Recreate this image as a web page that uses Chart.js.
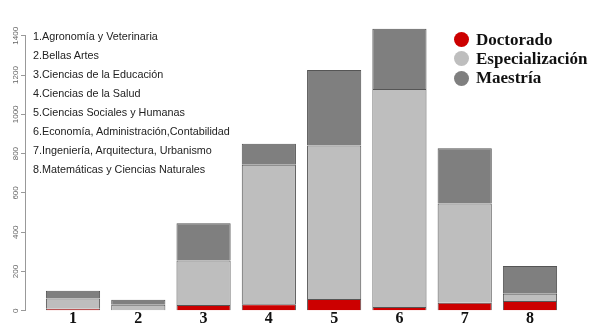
<!DOCTYPE html>
<html>
<head>
<meta charset="utf-8">
<script src="https://cdn.jsdelivr.net/npm/chart.js@4/dist/chart.umd.min.js"></script>
<style>
  html, body { margin: 0; padding: 0; background: #fff; }
  #wrap { position: relative; width: 603px; height: 336px; }
  #notes {
    position: absolute; left: 33px; top: 27px;
    font-family: "Liberation Sans", Arial, sans-serif; font-size: 10.8px;
    line-height: 19px; color: #222; white-space: nowrap;
  }
  #legend {
    position: absolute; left: 454px; top: 30px; margin: 0; padding: 0; list-style: none;
    font-family: "Liberation Serif", serif; font-weight: bold; font-size: 17px; color: #111;
  }
  #legend li { display: flex; align-items: center; height: 19.3px; }
  #legend span.dot { width: 15px; height: 15px; border-radius: 50%; margin-right: 7px; }
</style>
</head>
<body>
<div id="wrap">
  <canvas id="chart" width="603" height="336"></canvas>
  <div id="notes"></div>
  <ul id="legend"></ul>
</div>
<script>
const categories = ["1", "2", "3", "4", "5", "6", "7", "8"];
const areaNames = [
  "1.Agronomía y Veterinaria",
  "2.Bellas Artes",
  "3.Ciencias de la Educación",
  "4.Ciencias de la Salud",
  "5.Ciencias Sociales y Humanas",
  "6.Economía, Administración,Contabilidad",
  "7.Ingeniería, Arquitectura, Urbanismo",
  "8.Matemáticas y Ciencias Naturales"
];
const seriesNames = ["Doctorado", "Especialización", "Maestría"];
const doctorado = [10, 3, 30, 33, 60, 19, 41, 50];
const especializacion = [52, 28, 226, 710, 781, 1110, 505, 37];
const maestria = [40, 25, 190, 108, 385, 307, 282, 141];
const yTicks = [0, 200, 400, 600, 800, 1000, 1200, 1400];

const colors = ["#cc0000", "#bebebe", "#7f7f7f"];

document.getElementById("notes").innerHTML = areaNames.map(n => "<div>" + n + "</div>").join("");

const toPoints = (vals) => vals.map((v, i) => ({ x: i + 1, y: v }));

// R-style y axis line, only from first to last tick
const axisLine = {
    id: "axisLine",
    afterDraw(chart) {
        const y = chart.scales.y;
        const ctx = chart.ctx;
        ctx.save();
        ctx.strokeStyle = "#999";
        ctx.lineWidth = 1;
        ctx.beginPath();
        ctx.moveTo(y.right - 0.5, y.getPixelForValue(yTicks[0]));
        ctx.lineTo(y.right - 0.5, y.getPixelForValue(yTicks[yTicks.length - 1]));
        ctx.stroke();
        ctx.restore();
    }
};

const htmlLegend = {
    id: "htmlLegend",
    afterUpdate(chart) {
        const ul = document.getElementById("legend");
        ul.innerHTML = "";
        chart.data.datasets.forEach(ds => {
            const li = document.createElement("li");
            const dot = document.createElement("span");
            dot.className = "dot";
            dot.style.background = ds.backgroundColor;
            li.appendChild(dot);
            li.appendChild(document.createTextNode(ds.label));
            ul.appendChild(li);
        });
    }
};

const datasets = [doctorado, especializacion, maestria].map((vals, i) => ({
    label: seriesNames[i],
    data: toPoints(vals),
    backgroundColor: colors[i],
    borderColor: "#555",
    borderWidth: 1,
    barPercentage: 0.83,
    categoryPercentage: 1,
    clip: false
}));

new Chart(document.getElementById("chart"), {
    type: "bar",
    data: { datasets },
    plugins: [axisLine, htmlLegend],
    options: {
        responsive: false,
        animation: false,
        layout: { padding: { top: 24, right: 26, bottom: 10, left: 0 } },
        plugins: { legend: { display: false }, tooltip: { enabled: false } },
        scales: {
            x: {
                type: "linear",
                stacked: true,
                offset: false,
                min: 0.28,
                max: 8.72,
                afterBuildTicks: (scale) => { scale.ticks = categories.map((c, i) => ({ value: i + 1 })); },
                grid: { display: false, drawTicks: false, offset: false },
                border: { display: false },
                ticks: {
                    autoSkip: false,
                    padding: -2,
                    color: "#111",
                    font: { family: "Liberation Serif", weight: "bold", size: 16 },
                    callback: (v) => categories[Math.round(v) - 1]
                }
            },
            y: {
                stacked: true,
                min: 0,
                max: 1460,
                afterBuildTicks: (scale) => { scale.ticks = yTicks.map(v => ({ value: v })); },
                afterFit: (scale) => { scale.width = 26; },
                grid: { drawOnChartArea: false, drawTicks: true, tickLength: 5, color: "#999" },
                border: { display: false },
                ticks: {
                    minRotation: 90,
                    maxRotation: 90,
                    crossAlign: "center",
                    padding: -4,
                    color: "#666",
                    font: { family: "Liberation Sans", size: 8 },
                    callback: (v) => String(v)
                }
            }
        }
    }
});
</script>
</body>
</html>
